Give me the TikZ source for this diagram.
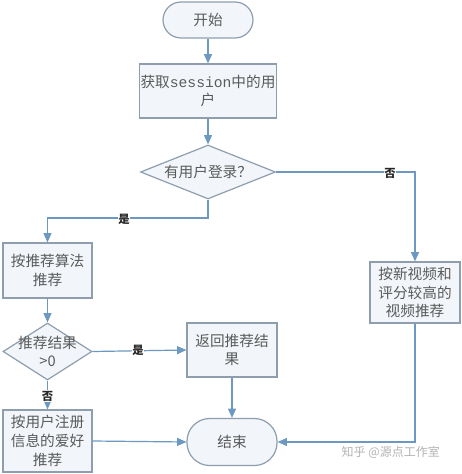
\documentclass[tikz,border=0pt]{standalone}
\usepackage{fontspec}
\setmainfont{Noto Sans CJK SC}
\setmonofont{Liberation Mono}
\usetikzlibrary{shapes.geometric,arrows.meta}
\definecolor{bordc}{HTML}{8E9EAE}
\definecolor{fillc}{HTML}{F2F6FA}
\definecolor{arrc}{HTML}{6C98C2}
\definecolor{txtc}{HTML}{5A5A5A}
\begin{document}
\begin{tikzpicture}[x=0.75pt,y=-0.75pt,
  base/.style={draw=bordc,line width=0.9pt,fill=fillc,text=txtc,font=\fontsize{11}{14}\selectfont,align=center,inner sep=1pt},
  txt/.style={text=txtc,font=\fontsize{11}{14}\selectfont,align=center,inner sep=0pt},
  conn/.style={draw=arrc,line width=0.9pt,-{Triangle[width=6pt,length=7pt]}},
  lab/.style={font=\fontsize{8.5}{9}\selectfont\bfseries,text=black!85,inner sep=0.5pt,fill=white}
]
\useasboundingbox (0,0) rectangle (461,474);
% nodes
\node[base,rectangle,rounded corners=13.5pt,minimum width=90*0.75pt,minimum height=36*0.75pt] (start) at (208,20) {开始};
\node[base,rectangle,minimum width=136*0.75pt,minimum height=54*0.75pt] (get) at (208,91) {获取{\ttfamily session}中的用\\户};
\node[base,diamond,minimum width=135*0.75pt,minimum height=54*0.75pt,inner sep=0pt] (login) at (208,172) {};
\node[txt] (logint) at (login) {有用户登录？};
\node[base,rectangle,minimum width=89*0.75pt,minimum height=55*0.75pt] (alg) at (47.5,270.5) {按推荐算法\\推荐};
\node[base,diamond,minimum width=89*0.75pt,minimum height=57*0.75pt,inner sep=0pt] (res) at (47.5,351.5) {};
\node[txt] (rest) at (res) {推荐结果\\>0};
\node[base,rectangle,minimum width=90*0.75pt,minimum height=54*0.75pt] (ret) at (232,350) {返回推荐结\\果};
\node[base,rectangle,minimum width=89*0.75pt,minimum height=62*0.75pt] (pref) at (47.5,441) {按用户注册\\信息的爱好\\推荐};
\node[base,rectangle,minimum width=90*0.75pt,minimum height=61*0.75pt] (newv) at (415,292.5) {按新视频和\\评分较高的\\视频推荐};
\node[base,rectangle,rounded corners=17pt,minimum width=90*0.75pt,minimum height=47*0.75pt] (end) at (232,442) {结束};
\node[font=\fontsize{9}{10}\selectfont,text=black!30,anchor=west] (wm) at (337,452) {知乎 @源点工作室};
% connectors
\draw[conn] (start) -- (get);
\draw[conn] (get) -- (login);
\draw[conn] (login.east) -- (415,172) -- (newv.north);
\node[lab] (no1) at (390,173) {否};
\draw[conn] (login.south) -- (208,218) -- (47.5,218) -- (alg.north);
\node[lab] (yes1) at (124,219) {是};
\draw[conn] (alg) -- (res);
\draw[conn] (res.east) -- (ret.west);
\node[lab] (yes2) at (138,350) {是};
\draw[conn] (res.south) -- (pref.north);
\node[lab] (no2) at (47.5,396) {否};
\draw[conn] (pref.east) -- (end.west);
\draw[conn] (ret.south) -- (end.north);
\draw[conn] (newv.south) -- (415,442) -- (end.east);
\end{tikzpicture}
\end{document}
